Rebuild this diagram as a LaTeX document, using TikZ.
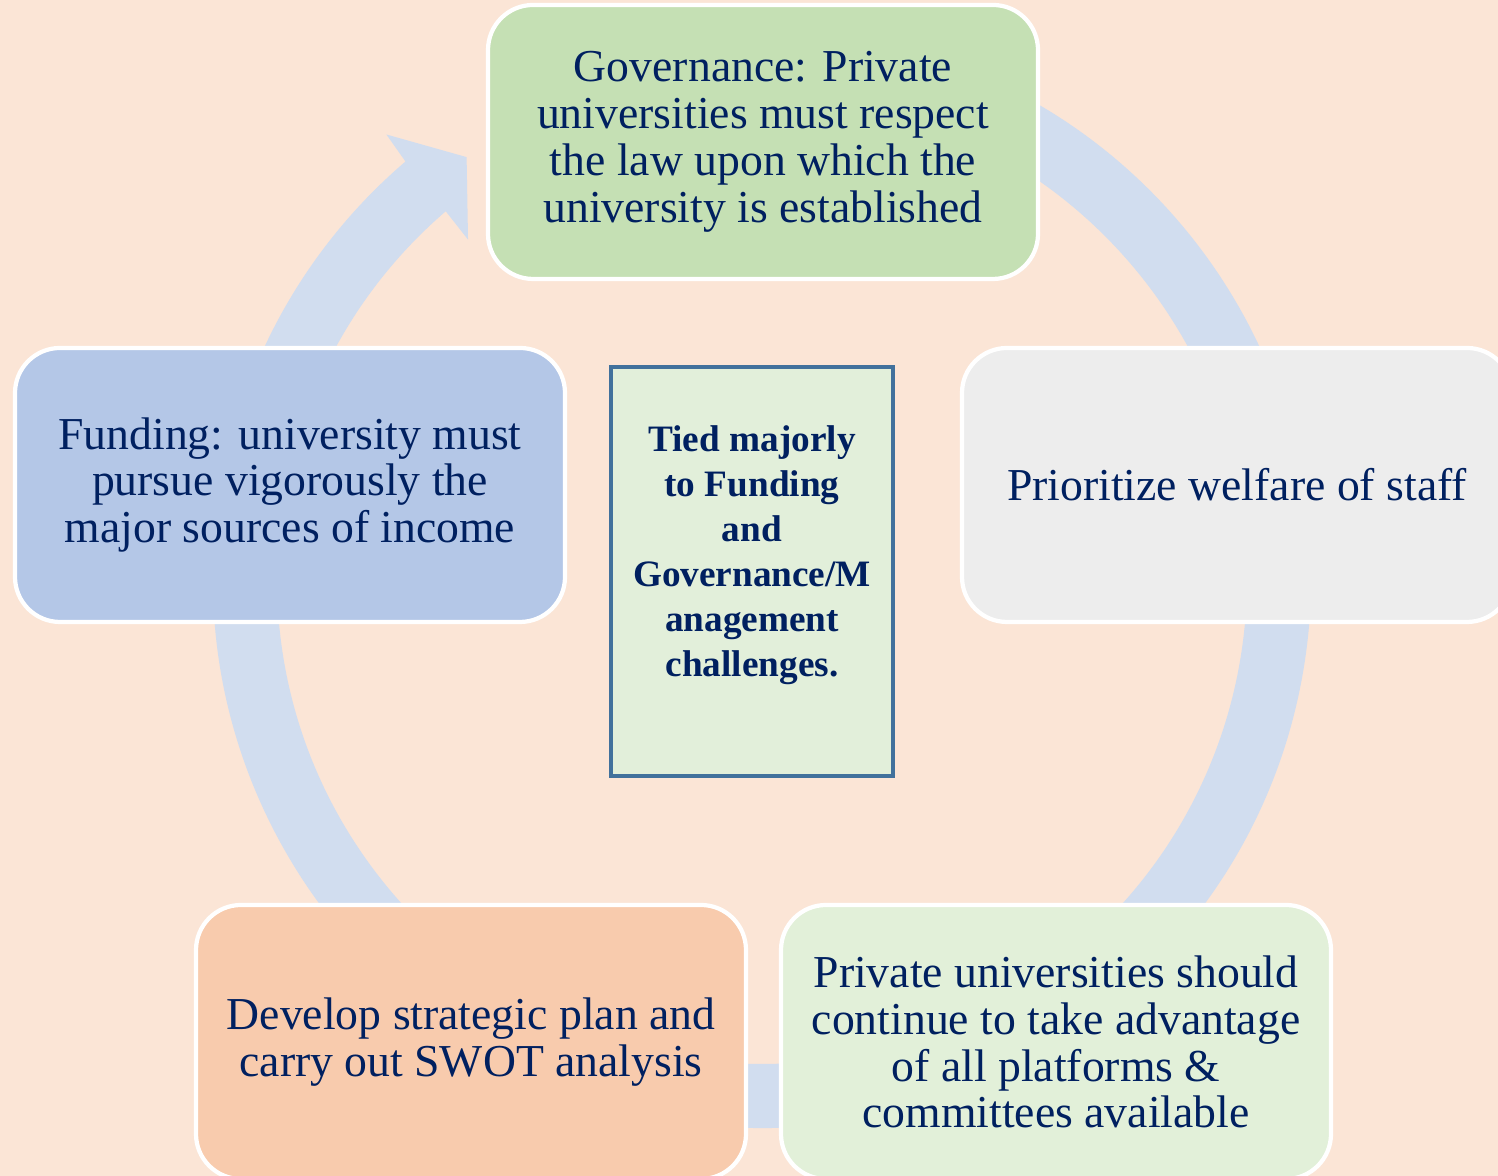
\documentclass[tikz,border=0pt]{standalone}
\usepackage{fontspec}
\setmainfont{Liberation Serif}
\definecolor{bgpeach}{HTML}{FBE5D6}
\definecolor{ringblue}{HTML}{D1DDEF}
\definecolor{navytext}{HTML}{002060}
\definecolor{govgreen}{HTML}{C5E0B4}
\definecolor{fundblue}{HTML}{B4C7E7}
\definecolor{staffgray}{HTML}{EDEDED}
\definecolor{swotorange}{HTML}{F8CBAD}
\definecolor{platgreen}{HTML}{E2F0D9}
\definecolor{tiedfill}{HTML}{E2EFDA}
\definecolor{tiedline}{HTML}{41719C}

\begin{document}
\begin{tikzpicture}[
	box/.style={draw=white, line width=1.2pt, rounded corners=0.45cm, minimum width=5.5cm, minimum height=2.74cm,
		inner sep=0pt, align=center, text=navytext, font=\fontsize{13}{13.35}\selectfont},
	tiedbox/.style={draw=tiedline, fill=tiedfill, line width=1pt, minimum width=2.82cm, minimum height=4.09cm, inner sep=0pt},
	tiedtext/.style={align=center, text=navytext, inner sep=0pt, font=\bfseries\fontsize{10.6}{12.8}\selectfont}]
			\useasboundingbox (0,0) rectangle (14.98,11.76);
			\clip (0,0) rectangle (14.98,11.76);
			\fill [bgpeach] (0,0) rectangle (14.98,11.76);
			
			\coordinate (ctr) at (7.62,5.97);
			\fill [ringblue, shift={(ctr)}] (130.7:4.85) arc [start angle=130.7, end angle=440, radius=4.85]
				-- (440:5.49) arc [start angle=440, end angle=130.5, radius=5.49]
				-- (130.2:5.82) -- (125:5.15) -- (130.9:4.49) -- cycle;
			
			\node [box, fill=govgreen] (gov) at (7.63,10.34) {Governance: Private\\universities must respect\\the law upon which the\\university is established};
			\node [box, fill=fundblue] (fund) at (2.90,6.91) {Funding: university must\\pursue vigorously the\\major sources of income};
			\node [box, fill=staffgray] (staff) at (12.37,6.91) {Prioritize welfare of staff};
			\node [box, fill=swotorange] (swot) at (4.71,1.34) {Develop strategic plan and\\carry out SWOT analysis};
			\node [box, fill=platgreen] (plat) at (10.56,1.34) {Private universities should\\continue to take advantage\\of all platforms \&\\committees available};
			
			\node [tiedbox] (tied) at (7.52,6.045) {};
			\node [tiedtext] (tiedlbl) at ([yshift=0.16cm]tied.center) {Tied majorly\\to Funding\\and\\Governance/M\\anagement\\challenges.};
\end{tikzpicture}
\end{document}
